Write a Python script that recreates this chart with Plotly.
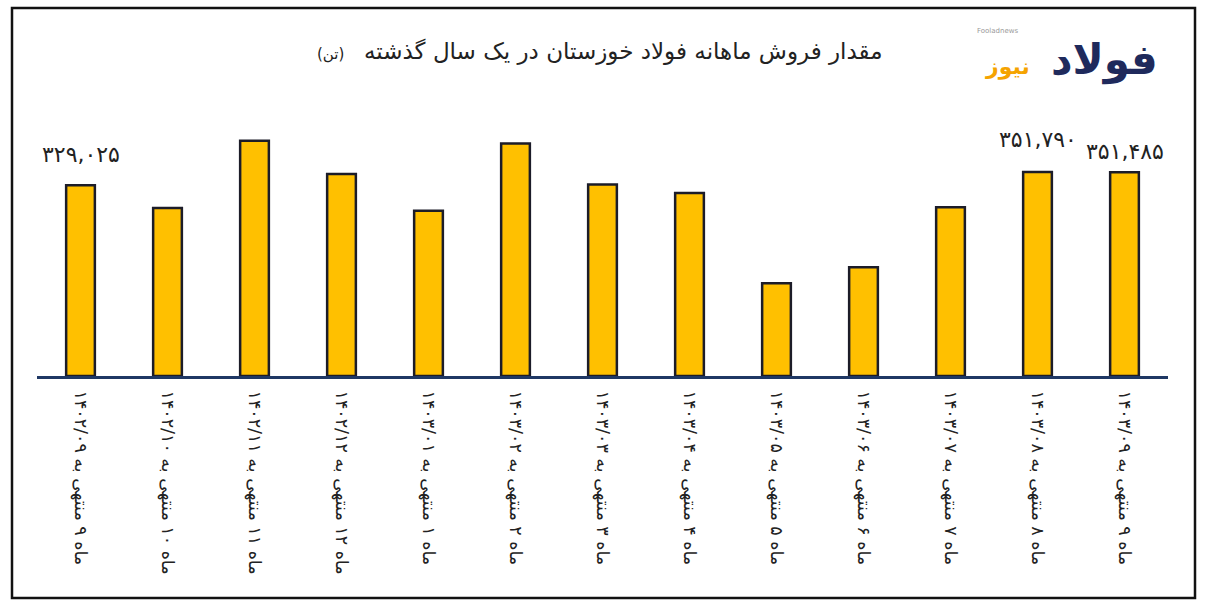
import plotly.graph_objects as go

categories = [
    "ماه ۹ منتهی به ۱۴۰۲/۰۹",
    "ماه ۱۰ منتهی به ۱۴۰۲/۱۰",
    "ماه ۱۱ منتهی به ۱۴۰۲/۱۱",
    "ماه ۱۲ منتهی به ۱۴۰۲/۱۲",
    "ماه ۱ منتهی به ۱۴۰۳/۰۱",
    "ماه ۲ منتهی به ۱۴۰۳/۰۲",
    "ماه ۳ منتهی به ۱۴۰۳/۰۳",
    "ماه ۴ منتهی به ۱۴۰۳/۰۴",
    "ماه ۵ منتهی به ۱۴۰۳/۰۵",
    "ماه ۶ منتهی به ۱۴۰۳/۰۶",
    "ماه ۷ منتهی به ۱۴۰۳/۰۷",
    "ماه ۸ منتهی به ۱۴۰۳/۰۸",
    "ماه ۹ منتهی به ۱۴۰۳/۰۹",
]
sales = [329025, 290000, 406000, 348500, 285000, 401000, 330500,
         315700, 160000, 187500, 291000, 351790, 351485]
value_labels = {0: "۳۲۹,۰۲۵", 11: "۳۵۱,۷۹۰", 12: "۳۵۱,۴۸۵"}
label_shift = {0: 16, 11: 18, 12: 6}

title_main = "مقدار فروش ماهانه فولاد خوزستان در یک سال گذشته"
title_unit = "(تن)"

FONT = "DejaVu Sans"

fig = go.Figure()
fig.add_trace(go.Bar(
    x=categories, y=sales,
    marker=dict(color="#FFC000", line=dict(color="#1c1c28", width=2.5)),
    width=0.33,
))

for i, txt in value_labels.items():
    fig.add_annotation(x=categories[i], y=sales[i], text=txt, showarrow=False,
                       xref="x", yref="y", yanchor="bottom", yshift=label_shift[i],
                       font=dict(family=FONT, size=22, color="#222222"))

fig.add_annotation(x=(885 - 37) / 1131, y=(376 - 52) / 276, xref="paper", yref="paper",
                   text=title_main, showarrow=False, xanchor="right", yanchor="middle",
                   font=dict(family=FONT, size=23, color="#222222"))
fig.add_annotation(x=(346 - 37) / 1131, y=(376 - 54) / 276, xref="paper", yref="paper",
                   text=title_unit, showarrow=False, xanchor="right", yanchor="middle",
                   font=dict(family=FONT, size=15, color="#222222"))

# logo
fig.add_annotation(x=(1160 - 37) / 1131, y=(376 - 60) / 276, xref="paper", yref="paper",
                   text="<b>فولاد</b>", showarrow=False, xanchor="right", yanchor="middle",
                   font=dict(family=FONT, size=42, color="#1F2A5C"))
fig.add_annotation(x=(1032 - 37) / 1131, y=(376 - 67) / 276, xref="paper", yref="paper",
                   text="<b>نیوز</b>", showarrow=False, xanchor="right", yanchor="middle",
                   font=dict(family=FONT, size=22, color="#F5A300"))
fig.add_annotation(x=(975 - 37) / 1131, y=(376 - 31) / 276, xref="paper", yref="paper",
                   text="Fooladnews", showarrow=False, xanchor="left", yanchor="middle",
                   font=dict(family=FONT, size=7, color="#999999"))

fig.add_shape(type="rect", xref="paper", yref="paper",
              x0=(12 - 37) / 1131, x1=(1195 - 37) / 1131,
              y0=(376 - 598) / 276, y1=(376 - 8) / 276,
              line=dict(color="#111111", width=2.5), fillcolor="rgba(0,0,0,0)")

fig.update_layout(
    width=1215, height=608,
    margin=dict(l=37, r=47, t=100, b=232),
    paper_bgcolor="white", plot_bgcolor="white",
    showlegend=False,
    xaxis=dict(tickangle=90, showgrid=False, showline=True, linecolor="#1F3864",
               linewidth=3, ticks="", ticklabelstandoff=8,
               tickfont=dict(family=FONT, size=17.5, color="#222222")),
    yaxis=dict(range=[0, 476100], visible=False, showgrid=False, zeroline=False),
    bargap=0.67,
)

fig.write_html("out.html", config={"displayModeBar": False},
               post_script="document.body.style.margin='0';")
